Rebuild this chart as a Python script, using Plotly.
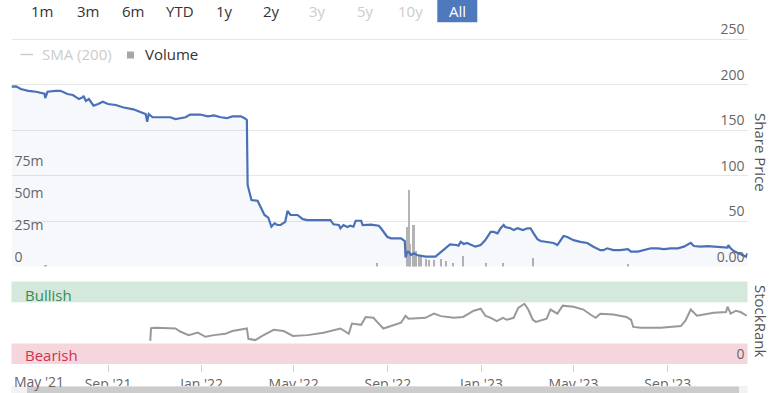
import plotly.graph_objects as go

W, H = 771, 393

# ---------------- data ----------------
price_dates = ["2021-04-28","2021-05-04","2021-05-10","2021-05-20","2021-05-30","2021-06-10","2021-06-11","2021-06-14","2021-06-24","2021-07-01",
               "2021-07-10","2021-07-17","2021-07-25","2021-07-30","2021-07-31","2021-08-03","2021-08-07","2021-08-13","2021-08-19","2021-08-25",
               "2021-09-01","2021-09-11","2021-09-20","2021-09-27","2021-10-04","2021-10-13","2021-10-20","2021-10-22","2021-10-24","2021-10-29",
               "2021-11-06","2021-11-11","2021-11-21","2021-11-28","2021-12-04","2021-12-11","2021-12-17","2021-12-30","2022-01-09","2022-01-17",
               "2022-01-26","2022-02-03","2022-02-10","2022-02-21","2022-02-26","2022-03-01","2022-03-02","2022-03-04","2022-03-07","2022-03-15",
               "2022-03-20","2022-03-24","2022-03-29","2022-04-02","2022-04-06","2022-04-10","2022-04-14","2022-04-20","2022-04-23","2022-04-27",
               "2022-05-06","2022-05-13","2022-05-19","2022-06-05","2022-06-18","2022-06-22","2022-06-29","2022-07-01","2022-07-05","2022-07-10",
               "2022-07-14","2022-07-18","2022-07-21","2022-07-28","2022-07-30","2022-08-10","2022-08-20","2022-08-23","2022-08-31","2022-09-05",
               "2022-09-18","2022-09-23","2022-09-24","2022-09-26","2022-09-28","2022-10-01","2022-10-05","2022-10-09","2022-10-20","2022-11-02",
               "2022-11-09","2022-11-15","2022-11-21","2022-11-29","2022-12-02","2022-12-05","2022-12-09","2022-12-13","2022-12-18","2022-12-24",
               "2022-12-31","2023-01-06","2023-01-13","2023-01-17","2023-01-22","2023-01-26","2023-01-30","2023-02-01","2023-02-08","2023-02-12",
               "2023-02-17","2023-02-24","2023-03-02","2023-03-06","2023-03-10","2023-03-15","2023-03-19","2023-03-28","2023-04-05","2023-04-10",
               "2023-04-14","2023-04-18","2023-04-23","2023-05-01","2023-05-10","2023-05-19","2023-05-27","2023-06-01","2023-06-05","2023-06-09",
               "2023-06-14","2023-06-22","2023-07-01","2023-07-11","2023-07-15","2023-07-24","2023-08-01","2023-08-10","2023-08-19","2023-08-27",
               "2023-09-05","2023-09-14","2023-09-22","2023-10-01","2023-10-05","2023-10-14","2023-10-23","2023-10-31","2023-11-09","2023-11-18",
               "2023-11-19","2023-11-22","2023-11-26","2023-12-01","2023-12-08","2023-12-12","2023-12-14"]
price_vals = [197.6,198,195,193,192,190,185,192,193,193,
              189.6,188.5,184,186,187.5,182,184,176.7,178.6,181,
              178.6,177.5,175,173.8,172.7,169.8,167.6,159,167.6,164,
              163.5,164,164,162,162.9,164,167,167,165,166,
              164,163,165,165,163,161,89.6,82,73,72.3,
              64,56.6,53.6,43.7,47.5,45.6,45.6,49,61,56.6,
              56.6,52,51,51,51,46.4,45.6,42,45.6,43.4,
              44.8,43.7,50.3,50.3,45.6,46,44.8,42,32.7,31,
              31,28,10,16,16,12.6,14.5,12.6,10.8,10.8,
              16,20,24.4,23.6,22.9,27,24.7,25.8,23.6,21.8,
              23.6,29,38,38,36.5,42,45.6,43.4,42,40,
              42,40,42,42,36.5,30,28,27,25.8,23.6,
              29,33.5,32.4,29,27,25.8,21.8,20,18,18,
              20,18,18,19,16.3,16.3,18,20,20,19,
              20,20,21.8,26,22.5,21.8,22.5,21.8,21.4,20.7,
              23.6,20,17,15,12.6,10.8,14.5]

vol_dates = ["2021-06-11","2022-08-18","2022-09-26","2022-09-28","2022-09-29","2022-10-04","2022-10-05","2022-10-07",
             "2022-10-11","2022-10-14","2022-10-20","2022-10-24","2022-10-31","2022-11-09","2022-11-15","2022-11-24",
             "2022-12-08","2023-01-06","2023-01-29","2023-03-09","2023-07-11"]
vol_millions = [1.0,2.4,31,60,18,33,21,12,9,8,6,5,5,6,4,2.5,8,2.5,2.5,6.5,2]

rank_dates = ["2021-10-26","2021-10-27","2021-11-02","2021-11-28","2021-12-04","2021-12-15","2021-12-27","2022-01-06","2022-01-17","2022-02-01",
              "2022-02-10","2022-03-01","2022-03-03","2022-03-12","2022-03-21","2022-04-05","2022-04-18","2022-04-30","2022-05-19","2022-06-09",
              "2022-07-01","2022-07-12","2022-07-16","2022-07-28","2022-08-03","2022-08-13","2022-08-20","2022-08-26","2022-09-05","2022-09-18",
              "2022-09-24","2022-09-28","2022-10-20","2022-10-31","2022-11-09","2022-11-26","2022-12-08","2022-12-22","2022-12-31","2023-01-06",
              "2023-01-13","2023-01-21","2023-01-29","2023-02-03","2023-02-12","2023-02-18","2023-02-26","2023-03-03","2023-03-09","2023-03-13",
              "2023-03-27","2023-04-01","2023-04-10","2023-04-17","2023-05-01","2023-05-14","2023-05-23","2023-05-30","2023-06-05","2023-06-22",
              "2023-07-09","2023-07-15","2023-07-18","2023-07-28","2023-08-23","2023-09-18","2023-09-24","2023-10-01","2023-10-09","2023-10-18",
              "2023-10-31","2023-11-16","2023-11-18","2023-11-22","2023-11-29","2023-12-05","2023-12-13"]
rank_vals = [28,43.5,44,43,39.4,35,38,33,35,36.6,
             40,43,30.5,29,34,41.5,40,34,35,38,
             43,36.6,49,47.5,57,56,49,43,46,50,
             58.5,55,56,61,58,56,57,64.6,67,58.5,
             56,52,56,53.6,56,68,73,66,53.6,51,
             55,66,61,70.7,69.5,66,60,56,61,60,
             57,53.6,45,44,44,46,52.4,66,58.5,60,
             62,63,69.5,61,64.6,63,58.5]

assert len(price_dates) == len(price_vals)
assert len(vol_dates) == len(vol_millions)
assert len(rank_dates) == len(rank_vals)

x_range = ["2021-04-28", "2023-12-14"]
month_ticks = ["2021-05-01","2021-09-01","2022-01-01","2022-05-01","2022-09-01","2023-01-01","2023-05-01","2023-09-01"]
month_labels = ["May '21","Sep '21","Jan '22","May '22","Sep '22","Jan '23","May '23","Sep '23"]
price_ticks = [0, 50, 100, 150, 200, 250]
price_labels = ["0.00", "50", "100", "150", "200", "250"]
vol_ticks = [0, 25, 50, 75]
vol_labels = ["0", "25m", "50m", "75m"]
rank_ticks = [0, 100]
rank_labels = ["0", ""]
bearish_band = [0, 25]
bullish_band = [75, 100]
range_buttons = ["1m","3m","6m","YTD","1y","2y","3y","5y","10y","All"]
range_enabled = [True,True,True,True,True,True,False,False,False,True]

# ---------------- layout helpers ----------------
def px(x):
    return x / W

def py(y):
    return 1 - y / H

FONT = "Open Sans"
PLOT_L, PLOT_R = 11.5, 747.5
PRICE_BOT = 266.5
PRICE_PX_PER_UNIT = (266.5 - 39) / 250
PRICE_MAX = 272          # headroom so the 250 label stays inside the panel
PRICE_TOP = PRICE_BOT - PRICE_MAX * PRICE_PX_PER_UNIT
RANK_BOT = 364
RANK_PX_PER_UNIT = (364 - 281.5) / 100
RANK_MAX = 101
RANK_TOP = RANK_BOT - RANK_MAX * RANK_PX_PER_UNIT
VOL_PX_PER_M = 1.272
VOL_MAX = (PRICE_BOT - PRICE_TOP) / VOL_PX_PER_M

fig = go.Figure()

fig.add_trace(go.Bar(
    x=vol_dates, y=vol_millions, xaxis="x", yaxis="y",
    marker=dict(color="#b4b4b4", line=dict(width=0)),
    width=2 * 86400000, name="Volume", showlegend=False,
))
fig.add_trace(go.Scatter(
    x=price_dates, y=price_vals, xaxis="x", yaxis="y2", mode="lines",
    line=dict(color="#4a70b7", width=2.2),
    fill="tozeroy", fillcolor="rgba(74,112,183,0.05)",
    name="Share Price", showlegend=False,
))
fig.add_trace(go.Scatter(
    x=rank_dates, y=rank_vals, xaxis="x", yaxis="y3", mode="lines",
    line=dict(color="#999999", width=2),
    name="StockRank", showlegend=False,
))

shapes = []
shapes.append(dict(type="rect", xref="x domain", yref="y3", x0=0, x1=1,
                   y0=bullish_band[0], y1=bullish_band[1], fillcolor="#d5e8dc",
                   line=dict(width=0), layer="below"))
shapes.append(dict(type="rect", xref="x domain", yref="y3", x0=0, x1=1,
                   y0=bearish_band[0], y1=bearish_band[1], fillcolor="#f4d6dc",
                   line=dict(width=0), layer="below"))
shapes.append(dict(type="rect", xref="paper", yref="paper", x0=px(437.3), x1=px(477.3),
                   y0=py(22.3), y1=py(-2), fillcolor="#4f79bd", line=dict(width=0)))
shapes.append(dict(type="line", xref="paper", yref="paper", x0=px(20.5), x1=px(33),
                   y0=py(54.5), y1=py(54.5), line=dict(color="#cccccc", width=1.5)))
shapes.append(dict(type="rect", xref="paper", yref="paper", x0=px(127), x1=px(134),
                   y0=py(58.5), y1=py(51.5), fillcolor="#a6a6a6", line=dict(width=0)))
shapes.append(dict(type="rect", xref="paper", yref="paper", x0=px(PLOT_L), x1=px(PLOT_R),
                   y0=py(393), y1=py(386), fillcolor="#f2f2f2", line=dict(width=0)))
shapes.append(dict(type="rect", xref="paper", yref="paper", x0=px(27), x1=px(739),
                   y0=py(393), y1=py(386.5), fillcolor="#cccccc", line=dict(width=0)))

annotations = []
btn_centers = [41.5, 88, 133, 179.5, 224, 271.5, 317.5, 365, 410.5, 457.3]
for lbl, en, cx in zip(range_buttons, range_enabled, btn_centers):
    if lbl == "All":
        col = "#ffffff"
    else:
        col = "#333333" if en else "#cccccc"
    annotations.append(dict(text=lbl, x=px(cx), y=py(11), xref="paper", yref="paper",
                            xanchor="center", yanchor="middle", showarrow=False,
                            font=dict(family=FONT, size=15, color=col)))
annotations.append(dict(text="SMA (200)", x=px(39.5), y=py(54.5), xref="paper", yref="paper",
                        xanchor="left", yanchor="middle", showarrow=False,
                        font=dict(family=FONT, size=15, color="#cccccc")))
annotations.append(dict(text="Volume", x=px(142.5), y=py(54.5), xref="paper", yref="paper",
                        xanchor="left", yanchor="middle", showarrow=False,
                        font=dict(family=FONT, size=15, color="#333333")))
annotations.append(dict(text="Share Price", x=px(761), y=py(152), xref="paper", yref="paper",
                        xanchor="center", yanchor="middle", showarrow=False, textangle=90,
                        font=dict(family=FONT, size=15, color="#555555")))
annotations.append(dict(text="StockRank", x=px(761), y=py(321), xref="paper", yref="paper",
                        xanchor="center", yanchor="middle", showarrow=False, textangle=90,
                        font=dict(family=FONT, size=15, color="#555555")))
annotations.append(dict(text="Bullish", x=px(23), y=py(294.5), xref="paper", yref="paper",
                        xanchor="left", yanchor="middle", showarrow=False,
                        font=dict(family=FONT, size=15, color="#3a8a55")))
annotations.append(dict(text="Bearish", x=px(23), y=py(355), xref="paper", yref="paper",
                        xanchor="left", yanchor="middle", showarrow=False,
                        font=dict(family=FONT, size=15, color="#d2324f")))
annotations.append(dict(text=month_labels[0], x=px(11.5), y=py(381), xref="paper", yref="paper",
                        xanchor="left", yanchor="middle", showarrow=False,
                        font=dict(family=FONT, size=14, color="#666666")))

x_ticktext = [""] + month_labels[1:]

fig.update_layout(
    width=W, height=H, autosize=False,
    margin=dict(l=0, r=0, t=0, b=0, pad=0),
    paper_bgcolor="white", plot_bgcolor="white",
    font=dict(family=FONT, size=14, color="#666666"),
    showlegend=False, bargap=0,
    xaxis=dict(
        domain=[px(PLOT_L), px(PLOT_R)], range=x_range, type="date", anchor="y3",
        tickvals=month_ticks, ticktext=x_ticktext,
        ticks="outside", ticklen=7, tickwidth=1, tickcolor="#d0d0d0",
        showgrid=False, zeroline=False, showline=False, automargin=False,
        tickfont=dict(family=FONT, size=14, color="#666666"),
    ),
    yaxis=dict(
        domain=[py(PRICE_BOT), py(PRICE_TOP)], range=[0, VOL_MAX], anchor="x", side="left",
        tickvals=vol_ticks, ticktext=vol_labels, ticklabelposition="inside top",
        showgrid=False, zeroline=False, showline=False, ticks="", automargin=False,
        tickfont=dict(family=FONT, size=14, color="#666666"),
    ),
    yaxis2=dict(
        overlaying="y", range=[0, PRICE_MAX], anchor="x", side="right",
        tickvals=price_ticks, ticktext=price_labels, ticklabelposition="inside top",
        showgrid=True, gridcolor="#e6e6e6", gridwidth=1, zeroline=False, showline=False, ticks="",
        automargin=False,
        tickfont=dict(family=FONT, size=14, color="#666666"),
    ),
    yaxis3=dict(
        domain=[py(RANK_BOT), py(RANK_TOP)], range=[0, RANK_MAX], anchor="x", side="right",
        tickvals=rank_ticks, ticktext=rank_labels, ticklabelposition="inside top",
        showgrid=True, gridcolor="#e6e6e6", gridwidth=1, zeroline=False, showline=False, ticks="",
        automargin=False,
        tickfont=dict(family=FONT, size=14, color="#666666"),
    ),
    shapes=shapes,
    annotations=annotations,
)

fig.write_html(
    "out.html",
    config={"displayModeBar": False},
    post_script="document.body.style.margin='0';document.body.style.overflow='hidden';",
)
